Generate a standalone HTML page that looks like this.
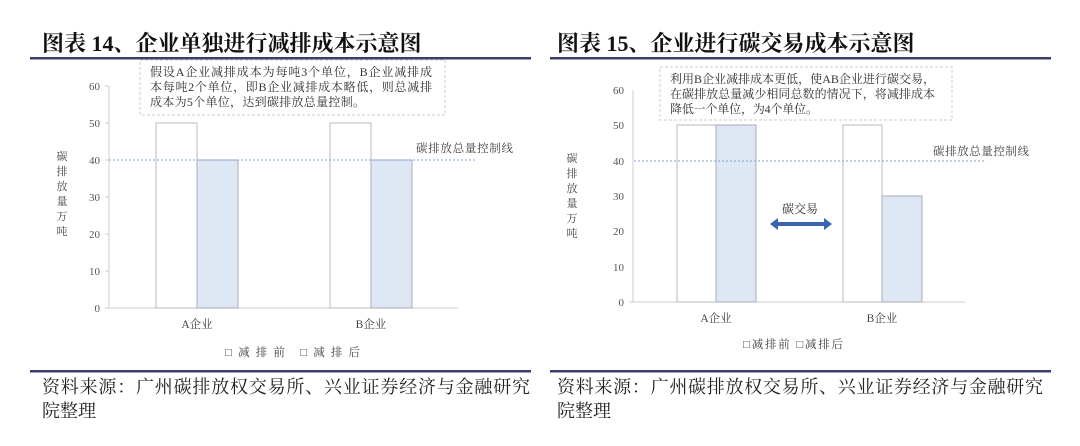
<!DOCTYPE html>
<html><head><meta charset="utf-8"><style>
body{margin:0;background:#fff;}
svg text{font-family:"Liberation Serif","Noto Serif CJK SC",serif;}
</style></head><body>
<svg width="1080" height="441" viewBox="0 0 1080 441" xmlns="http://www.w3.org/2000/svg">
<rect width="1080" height="441" fill="#fff"/>
<text x="42" y="51" font-size="22" font-weight="bold" fill="#111">图表 14、企业单独进行减排成本示意图</text>
<text x="557" y="51" font-size="22" font-weight="bold" fill="#111">图表 15、企业进行碳交易成本示意图</text>
<rect x="30" y="57" width="501" height="2.5" fill="#3c3f6b"/>
<rect x="550" y="57" width="501" height="2.5" fill="#3c3f6b"/>
<rect x="30" y="370" width="501" height="2.5" fill="#3c3f6b"/>
<rect x="550" y="370" width="501" height="2.5" fill="#3c3f6b"/>
<text x="42" y="393" font-size="18" fill="#222" textLength="488" lengthAdjust="spacing">资料来源：广州碳排放权交易所、兴业证券经济与金融研究</text>
<text x="42" y="417" font-size="18" fill="#222">院整理</text>
<text x="557" y="393" font-size="18" fill="#222" textLength="486" lengthAdjust="spacing">资料来源：广州碳排放权交易所、兴业证券经济与金融研究</text>
<text x="557" y="417" font-size="18" fill="#222">院整理</text>

<!-- LEFT chart -->
<g font-size="11" fill="#555" text-anchor="end">
<text x="100" y="90">60</text><text x="100" y="127">50</text><text x="100" y="164">40</text>
<text x="100" y="201">30</text><text x="100" y="238">20</text><text x="100" y="275">10</text><text x="100" y="312">0</text>
</g>
<line x1="109" y1="86" x2="109" y2="308" stroke="#ccc"/>
<line x1="105" y1="308" x2="458" y2="308" stroke="#ccc"/>
<g stroke="#ccc"><line x1="105" y1="86" x2="109" y2="86"/><line x1="105" y1="123" x2="109" y2="123"/><line x1="105" y1="160" x2="109" y2="160"/><line x1="105" y1="197" x2="109" y2="197"/><line x1="105" y1="234" x2="109" y2="234"/><line x1="105" y1="271" x2="109" y2="271"/></g>
<rect x="156" y="123" width="41" height="185" fill="#fff" stroke="#bbb"/>
<rect x="197" y="160" width="41" height="148" fill="#dde8f4" stroke="#aab"/>
<rect x="330" y="123" width="41" height="185" fill="#fff" stroke="#bbb"/>
<rect x="371" y="160" width="41" height="148" fill="#dde8f4" stroke="#aab"/>
<line x1="109" y1="160" x2="475" y2="160" stroke="#7e9fd0" stroke-dasharray="2,2"/>
<text x="416" y="152" font-size="11.5" fill="#444" textLength="97" lengthAdjust="spacing">碳排放总量控制线</text>
<rect x="140" y="60" width="305" height="55" fill="#fff" stroke="#ccc" stroke-dasharray="3,2"/>
<g font-size="12" fill="#333"><text x="150" y="76" textLength="282" lengthAdjust="spacing">假设A企业减排成本为每吨3个单位，B企业减排成</text>
<text x="150" y="91" textLength="282" lengthAdjust="spacing">本每吨2个单位，即B企业减排成本略低，则总减排</text>
<text x="150" y="106" textLength="215" lengthAdjust="spacing">成本为5个单位，达到碳排放总量控制。</text></g>
<g font-size="11" fill="#444" text-anchor="middle"><text x="62" y="160">碳</text><text x="62" y="175">排</text><text x="62" y="190">放</text><text x="62" y="205">量</text><text x="62" y="220">万</text><text x="62" y="235">吨</text></g>
<g font-size="11.5" fill="#444" text-anchor="middle"><text x="197" y="328">A企业</text><text x="371" y="328">B企业</text>
<text x="225" y="356" text-anchor="start" textLength="135" lengthAdjust="spacing">□减排前  □减排后</text></g>

<!-- RIGHT chart -->
<g font-size="11" fill="#555" text-anchor="end">
<text x="624" y="94">60</text><text x="624" y="129">50</text><text x="624" y="165">40</text>
<text x="624" y="200">30</text><text x="624" y="235">20</text><text x="624" y="271">10</text><text x="624" y="306">0</text>
</g>
<line x1="633" y1="90" x2="633" y2="302" stroke="#ccc"/>
<line x1="629" y1="302" x2="965" y2="302" stroke="#ccc"/>
<rect x="677" y="125" width="39" height="177" fill="#fff" stroke="#bbb"/>
<rect x="716" y="125" width="40" height="177" fill="#dde8f4" stroke="#aab"/>
<rect x="843" y="125" width="39" height="177" fill="#fff" stroke="#bbb"/>
<rect x="882" y="196" width="40" height="106" fill="#dde8f4" stroke="#aab"/>
<line x1="634" y1="161" x2="985" y2="161" stroke="#7e9fd0" stroke-dasharray="2,2"/>
<text x="933" y="155" font-size="11.5" fill="#444" textLength="96" lengthAdjust="spacing">碳排放总量控制线</text>
<rect x="660" y="67" width="292" height="53" fill="#fff" stroke="#ccc" stroke-dasharray="3,2"/>
<g font-size="12" fill="#333"><text x="670" y="83" textLength="265" lengthAdjust="spacing">利用B企业减排成本更低，使AB企业进行碳交易，</text>
<text x="670" y="98" textLength="265" lengthAdjust="spacing">在碳排放总量减少相同总数的情况下，将减排成本</text>
<text x="670" y="113" textLength="148" lengthAdjust="spacing">降低一个单位，为4个单位。</text></g>
<polygon points="770,224 778,218 778,222 824,222 824,218 832,224 824,230 824,226 778,226 778,230" fill="#3a63b0"/>
<text x="782" y="213" font-size="12" fill="#333">碳交易</text>
<g font-size="11" fill="#444" text-anchor="middle"><text x="572" y="162">碳</text><text x="572" y="177">排</text><text x="572" y="192">放</text><text x="572" y="207">量</text><text x="572" y="222">万</text><text x="572" y="237">吨</text></g>
<g font-size="11.5" fill="#444" text-anchor="middle"><text x="716" y="322">A企业</text><text x="882" y="322">B企业</text>
<text x="743" y="348" text-anchor="start" textLength="100" lengthAdjust="spacing">□减排前  □减排后</text></g>
</svg>
</body></html>
